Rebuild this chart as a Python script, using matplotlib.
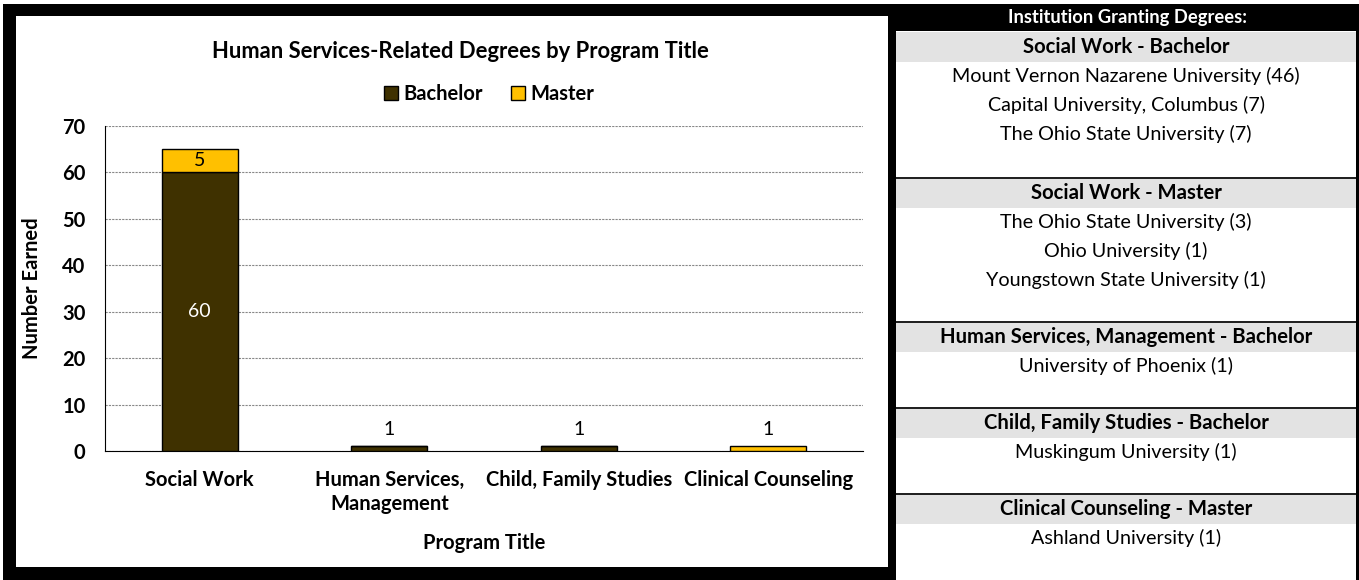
import numpy as np
import matplotlib.pyplot as plt
from matplotlib.patches import Rectangle

plt.rcParams['font.family'] = ['Lato', 'DejaVu Sans']

# data
programs = ['Social Work', 'Human Services,\nManagement', 'Child, Family Studies', 'Clinical Counseling']
bachelor = [60, 1, 1, 0]
master = [5, 0, 0, 1]

sections = ['Social Work - Bachelor', 'Social Work - Master',
            'Human Services, Management - Bachelor', 'Child, Family Studies - Bachelor',
            'Clinical Counseling - Master']
institutions = [
    ['Mount Vernon Nazarene University (46)', 'Capital University, Columbus (7)', 'The Ohio State University (7)'],
    ['The Ohio State University (3)', 'Ohio University (1)', 'Youngstown State University (1)'],
    ['University of Phoenix (1)'],
    ['Muskingum University (1)'],
    ['Ashland University (1)'],
]

W, H = 1359, 580
fig = plt.figure(figsize=(W / 100, H / 100), dpi=100)


def box(x0, y0, x1, y1, z=-1, **kw):
    # rectangle in pixel coords (top-left origin)
    fig.patches.append(Rectangle((x0 / W, 1 - y1 / H), (x1 - x0) / W, (y1 - y0) / H,
                                 transform=fig.transFigure, figure=fig, zorder=z, **kw))


def ftext(x, y, s, **kw):
    fig.text(x / W, 1 - y / H, s, ha='center', va='center', zorder=10, **kw)


# chart frame
box(3, 4, 896, 580, facecolor='black', edgecolor='none', z=-3)
box(16, 16, 888, 567, facecolor='white', edgecolor='none', z=-2)

ax = fig.add_axes([105 / W, 1 - 451 / H, (863 - 105) / W, (451 - 126) / H])
ax.set_zorder(5)
x = np.arange(len(programs))
bcol, mcol = '#3f3100', '#ffc000'
ax.bar(x, bachelor, 0.4, color=bcol, edgecolor='black', linewidth=1, label='Bachelor', zorder=3)
ax.bar(x, master, 0.4, bottom=bachelor, color=mcol, edgecolor='black', linewidth=1, label='Master', zorder=3)

for i in range(len(programs)):
    b, m = bachelor[i], master[i]
    if b >= 10:
        ax.text(x[i], b / 2, str(b), ha='center', va='center', color='white', fontsize=14)
    if m >= 5:
        ax.text(x[i], b + m / 2, str(m), ha='center', va='center', color='black', fontsize=14)
    if b + m < 5:
        ax.text(x[i], b + m + 1.8, str(b + m), ha='center', va='bottom', color='black', fontsize=14)

ax.set_xlim(-0.5, len(programs) - 0.5)
ax.set_ylim(0, 70)
ax.set_yticks(range(0, 71, 10))
ax.yaxis.grid(True, color='#888888', linestyle=(0, (2, 1)), linewidth=0.8, zorder=0)
ax.set_axisbelow(True)
for s in ['top', 'right']:
    ax.spines[s].set_visible(False)
ax.spines['left'].set_color('black')
ax.spines['bottom'].set_color('black')
ax.tick_params(length=0, labelsize=14.5)
ax.set_xticks(x)
ax.set_xticklabels(programs, fontweight='bold', linespacing=1.2)
for t in ax.get_yticklabels():
    t.set_fontweight('bold')
ax.tick_params(axis='y', pad=14)
ax.tick_params(axis='x', pad=14)
ax.set_ylabel('Number Earned', fontsize=14.5, fontweight='bold')
ax.yaxis.set_label_coords((42 - 105) / (863 - 105), 0.5)
ax.set_xlabel('Program Title', fontsize=14.5, fontweight='bold', labelpad=14)

ftext(460, 51, 'Human Services-Related Degrees by Program Title', fontsize=15.8, fontweight='bold')
ax.legend(loc='center', bbox_to_anchor=(489 / W, 1 - 94 / H), bbox_transform=fig.transFigure,
          ncol=2, frameon=False, prop={'weight': 'bold', 'size': 14.5},
          handlelength=0.7, handleheight=0.7, handletextpad=0.25, columnspacing=1.4)

# right panel
box(896, 4, 1359, 31, facecolor='black', edgecolor='none')
box(1356, 4, 1359, 580, facecolor='black', edgecolor='none')
ftext(1127, 18, 'Institution Granting Degrees:', color='white', fontsize=13.2, fontweight='bold')

tops = [32, 178, 322, 408, 494]
for k, (name, items) in enumerate(zip(sections, institutions)):
    top = tops[k]
    if k > 0:
        box(896, top - 1, 1356, top + 0.5, facecolor='#222222', edgecolor='none')
    box(896, top + 0.5, 1356, top + 30, facecolor='#e3e3e3', edgecolor='none')
    ftext(1126, top + 15, name, fontsize=14.6, fontweight='bold')
    for j, it in enumerate(items):
        ftext(1126, top + 44 + 29 * j, it, fontsize=14.2)

fig.savefig('out.png', dpi=100)
